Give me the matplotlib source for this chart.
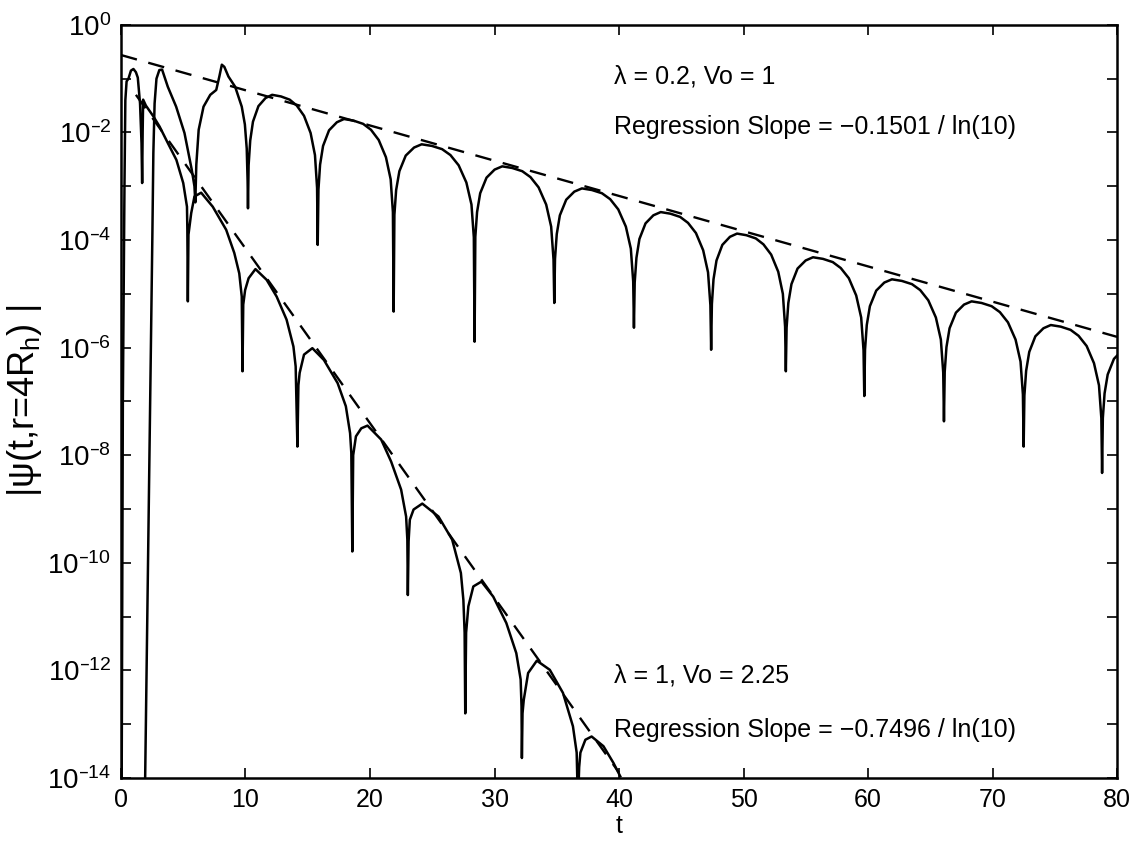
import numpy as np
import matplotlib
matplotlib.use("Agg")
import matplotlib.pyplot as plt
from matplotlib.ticker import FixedLocator, FuncFormatter

plt.rcParams['font.family'] = ['Liberation Sans', 'DejaVu Sans']
plt.rcParams['mathtext.default'] = 'regular'

# lambda = 0.2, Vo = 1  (t, log10|psi|), lobe by lobe
upper_t = [
    1.93, 2.52, 2.6, 2.7, 2.85, 3.08, 3.3, 3.76, 4.43, 5.1, 5.69, 5.9, 5.97,
    6.05, 6.24, 6.63, 7.17, 7.65, 7.9, 8.1, 8.3, 8.63, 9.17, 9.7, 9.95, 10.1, 10.17, 10.2,
    10.25, 10.38, 10.6, 11.04, 11.61, 12.14, 12.85, 13.55, 14.12, 14.7, 15.23, 15.58, 15.75, 15.8,
    15.86, 15.99, 16.23, 16.71, 17.34, 17.91, 18.68, 19.45, 20.08, 20.7, 21.28, 21.66, 21.84, 21.9,
    21.96, 22.1, 22.36, 22.87, 23.54, 24.15, 24.97, 25.79, 26.46, 27.12, 27.74, 28.15, 28.34, 28.4,
    28.46, 28.6, 28.85, 29.36, 30.01, 30.62, 31.42, 32.23, 32.89, 33.54, 34.15, 34.55, 34.74, 34.8,
    34.86, 35.0, 35.25, 35.76, 36.41, 37.02, 37.82, 38.63, 39.29, 39.94, 40.55, 40.95, 41.14, 41.2,
    41.26, 41.4, 41.64, 42.13, 42.76, 43.35, 44.13, 44.91, 45.54, 46.18, 46.76, 47.15, 47.34, 47.4,
    47.46, 47.59, 47.83, 48.3, 48.91, 49.48, 50.23, 50.99, 51.6, 52.22, 52.79, 53.16, 53.34, 53.4,
    53.46, 53.6, 53.85, 54.34, 54.99, 55.58, 56.38, 57.17, 57.81, 58.46, 59.05, 59.45, 59.64, 59.7,
    59.76, 59.9, 60.15, 60.66, 61.31, 61.92, 62.72, 63.53, 64.19, 64.84, 65.45, 65.85, 66.04, 66.1,
    66.16, 66.3, 66.55, 67.06, 67.71, 68.32, 69.12, 69.93, 70.59, 71.24, 71.85, 72.25, 72.44, 72.5,
    72.56, 72.7, 72.95, 73.44, 74.09, 74.68, 75.48, 76.27, 76.91, 77.56, 78.15, 78.55, 78.74, 78.8,
    78.86, 79.0, 79.25, 79.75, 80.0,
]
upper_log = [
    -14.2, -3.93, -2.38, -1.46, -1.0, -0.84, -0.83, -1.15, -1.52, -2.01, -2.7, -3.0, -3.3,
    -2.6, -1.95, -1.52, -1.3, -1.21, -0.96, -0.74, -0.78, -0.96, -1.15, -1.52, -1.85, -2.3, -2.9, -3.41,
    -2.61, -2.15, -1.8, -1.51, -1.36, -1.3, -1.33, -1.39, -1.5, -1.69, -2.01, -2.42, -3.03, -4.09,
    -3.06, -2.6, -2.25, -1.96, -1.81, -1.75, -1.78, -1.84, -1.95, -2.14, -2.46, -2.87, -3.48, -5.33,
    -3.53, -3.07, -2.72, -2.43, -2.28, -2.22, -2.25, -2.31, -2.42, -2.61, -2.93, -3.34, -3.95, -5.89,
    -3.94, -3.48, -3.13, -2.84, -2.69, -2.63, -2.66, -2.72, -2.83, -3.02, -3.34, -3.75, -4.36, -5.17,
    -4.35, -3.89, -3.54, -3.25, -3.1, -3.04, -3.07, -3.13, -3.24, -3.43, -3.75, -4.16, -4.77, -5.63,
    -4.79, -4.33, -3.98, -3.69, -3.54, -3.48, -3.51, -3.57, -3.68, -3.87, -4.19, -4.6, -5.21, -6.04,
    -5.19, -4.73, -4.38, -4.09, -3.94, -3.88, -3.91, -3.97, -4.08, -4.27, -4.59, -5.0, -5.61, -6.44,
    -5.63, -5.17, -4.82, -4.53, -4.38, -4.32, -4.35, -4.41, -4.52, -4.71, -5.03, -5.44, -6.05, -6.9,
    -6.04, -5.58, -5.23, -4.94, -4.79, -4.73, -4.76, -4.82, -4.93, -5.12, -5.44, -5.85, -6.46, -7.37,
    -6.45, -5.99, -5.64, -5.35, -5.2, -5.14, -5.17, -5.23, -5.34, -5.53, -5.85, -6.26, -6.87, -7.84,
    -6.89, -6.43, -6.08, -5.79, -5.64, -5.58, -5.61, -5.67, -5.78, -5.97, -6.29, -6.7, -7.31, -8.33,
    -7.31, -6.85, -6.5, -6.21, -6.15,
]

# lambda = 1, Vo = 2.25
lower_t = [
    0.05, 0.15, 0.28, 0.35, 0.45, 0.6, 0.8, 1.0, 1.2, 1.35, 1.53, 1.65, 1.7,
    1.74, 1.78, 2.0, 2.6, 3.1, 3.77, 4.45, 5.0, 5.3, 5.33, 5.37,
    5.42, 5.64, 5.9, 6.44, 7.37, 8.45, 9.1, 9.5, 9.7, 9.76,
    9.82, 9.97, 10.25, 10.8, 11.7, 12.5, 13.3, 13.85, 14.03, 14.17,
    14.25, 14.35, 14.7, 15.37, 16.3, 17.4, 18.06, 18.4, 18.5, 18.58,
    18.65, 18.87, 19.3, 19.8, 20.9, 21.7, 22.5, 22.9, 23.0, 23.04,
    23.1, 23.2, 23.5, 24.2, 25.5, 26.6, 27.3, 27.5, 27.6, 27.65,
    27.72, 27.9, 28.3, 28.95, 29.9, 30.95, 31.75, 32.1, 32.17, 32.2,
    32.25, 32.35, 32.7, 33.4, 34.44, 35.5, 36.3, 36.6, 36.7,
    36.8, 36.9, 37.3, 37.8, 38.75, 39.55, 40.1,
]
lower_log = [
    -14.5, -7.0, -3.0, -1.4, -1.05, -1.0, -0.85, -0.82, -0.88, -0.98, -1.46, -2.2, -2.94,
    -2.0, -1.39, -1.5, -1.7, -1.89, -2.2, -2.51, -2.94, -3.38, -3.8, -5.14,
    -3.9, -3.5, -3.19, -3.12, -3.38, -3.81, -4.24, -4.62, -5.05, -6.44,
    -5.2, -4.93, -4.71, -4.54, -4.74, -5.05, -5.48, -5.98, -6.35, -7.84,
    -6.7, -6.47, -6.13, -6.01, -6.23, -6.66, -7.09, -7.59, -7.96, -9.79,
    -8.0, -7.65, -7.5, -7.45, -7.71, -8.12, -8.64, -9.14, -9.57, -10.6,
    -9.6, -9.2, -9.01, -8.9, -9.14, -9.57, -10.19, -10.69, -11.3, -12.8,
    -11.3, -10.81, -10.44, -10.35, -10.63, -11.12, -11.68, -12.17, -12.67, -13.63,
    -12.8, -12.55, -12.05, -11.82, -11.99, -12.42, -13.04, -13.53, -14.5,
    -13.8, -13.53, -13.29, -13.23, -13.41, -13.72, -13.97,
]

# regression lines (end points)
reg_upper_t = [0.0, 80.0]
reg_upper_log = [-0.56, -5.80]
reg_lower_t = [1.2, 40.0]
reg_lower_log = [-1.3, -13.9]

fig = plt.figure(figsize=(11.36, 8.41), dpi=100)
ax = fig.add_axes([0.1065, 0.075, 0.8768, 0.8954])

ax.plot(upper_t, np.power(10.0, upper_log), color='black', lw=1.8)
ax.plot(lower_t, np.power(10.0, lower_log), color='black', lw=1.8)
ax.plot(reg_upper_t, np.power(10.0, reg_upper_log), color='black', lw=1.7, ls=(0, (7, 5)))
ax.plot(reg_lower_t, np.power(10.0, reg_lower_log), color='black', lw=1.7, ls=(0, (7, 5)))

ax.set_yscale('log')
ax.set_xlim(0, 80)
ax.set_ylim(1e-14, 1)

ax.xaxis.set_major_locator(FixedLocator(np.arange(0, 81, 10)))
ax.yaxis.set_major_locator(FixedLocator([10.0 ** k for k in range(-14, 1)]))
ax.yaxis.set_minor_locator(FixedLocator([]))


def ylab(v, pos):
    k = int(round(np.log10(v)))
    if k % 2:
        return ''
    if k == 0:
        return '10$^{0}$'
    return '10$^{\u2013%d}$' % (-k)


ax.yaxis.set_major_formatter(FuncFormatter(ylab))
ax.tick_params(which='both', direction='in', top=True, right=True,
               length=7, width=1.2, labelsize=18, pad=7)
ax.tick_params(axis='y', labelsize=20)
for s in ax.spines.values():
    s.set_linewidth(1.8)

ax.set_xlabel('t', fontsize=18, labelpad=2)
ax.set_ylabel('|\u03c8(t,r=4R$_{h}$) |', fontsize=26, labelpad=2)

ax.text(0.495, 0.9216, '\u03bb = 0.2, Vo = 1', transform=ax.transAxes, fontsize=18)
ax.text(0.495, 0.8552, 'Regression Slope = \u22120.1501 / ln(10)', transform=ax.transAxes, fontsize=18)
ax.text(0.495, 0.1262, '\u03bb = 1, Vo = 2.25', transform=ax.transAxes, fontsize=18)
ax.text(0.495, 0.0544, 'Regression Slope = \u22120.7496 / ln(10)', transform=ax.transAxes, fontsize=18)

fig.savefig('out.png', dpi=100)
